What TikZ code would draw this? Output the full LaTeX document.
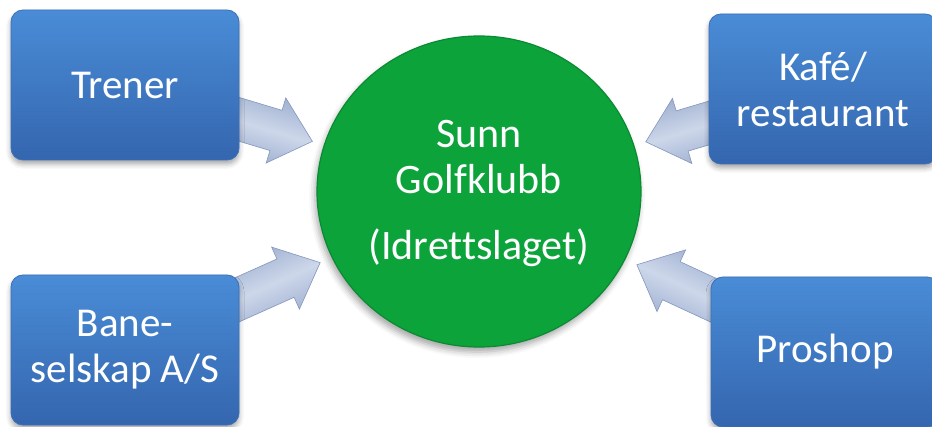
\documentclass[tikz,border=0pt]{standalone}
\usepackage{fontspec}
\setmainfont{Carlito}[Ligatures=NoCommon]
\usetikzlibrary{calc,shapes.geometric,shadows.blur}

\definecolor{boxtop}{HTML}{4A8CD7}
\definecolor{boxbottom}{HTML}{3466AE}
\definecolor{boxedge}{HTML}{3A70B9}
\definecolor{clubgreen}{HTML}{0DA33B}
\definecolor{clubedge}{HTML}{0B8A33}
\definecolor{feededge}{HTML}{90A3C8}
\definecolor{feedmid}{HTML}{CDD7EA}
\definecolor{feedline}{HTML}{8396BC}

% block arrow from a unit box towards the club, tip 174pt from the club centre
\newcommand\feedarrow[1]{%
  \path let \p1=($(#1.center)-(golf.center)$) in
    \pgfextra{\pgfmathsetmacro\feedangle{atan2(\y1,\x1)}\xdef\feedangle{\feedangle}};
  \begin{scope}[shift={($(golf.center)+(\feedangle:174)$)}, rotate=\feedangle+180]
    \shade[feed, shading angle=\feedangle]
      (0,0) -- (-38,34) -- (-38,21) -- (-140,21) -- (-140,-21)
      -- (-38,-21) -- (-38,-34) -- cycle;
  \end{scope}}

\begin{document}
\begin{tikzpicture}[x=1pt,y=1pt,
  unit/.style={rounded corners=12pt, minimum width=228pt, minimum height=150pt,
    inner sep=0pt, top color=boxtop, bottom color=boxbottom, draw=boxedge,
    line width=0.8pt, text=white, align=center,
    font=\fontsize{41}{46}\selectfont,
    blur shadow={shadow xshift=0pt, shadow yshift=-4pt, shadow blur radius=5pt,
      shadow opacity=35}},
  club/.style={ellipse, minimum width=324pt, minimum height=311pt, inner sep=0pt,
    fill=clubgreen, draw=clubedge, line width=1.2pt,
    blur shadow={shadow xshift=-2pt, shadow yshift=-5pt, shadow blur radius=6pt,
      shadow opacity=35}},
  clubtext/.style={text=white, anchor=base, font=\fontsize{42}{46}\selectfont},
  feed/.style={top color=feededge, bottom color=feededge, middle color=feedmid,
    draw=feedline, line width=0.6pt, line join=miter},
]
\useasboundingbox (0,0) rectangle (932,426);

% central club
\node[club] (golf) at (479,234.5) {};
\node[clubtext] (sunn) at ($(golf.center)+(0,43.5)$) {Sunn};
\node[clubtext] (klubb) at ($(golf.center)+(0,-2.5)$) {Golfklubb};
\node[clubtext] (idrett) at ($(golf.center)+(0,-68.5)$) {(Idrettslaget)};

% surrounding units (positions only, arrows drawn before the boxes)
\coordinate (trenerpos) at (125,341);
\coordinate (kafepos) at (823,337);
\coordinate (banepos) at (125,76);
\coordinate (proshoppos) at (825,74);

\feedarrow{trenerpos}
\feedarrow{kafepos}
\feedarrow{banepos}
\feedarrow{proshoppos}

\node[unit] (trener) at (trenerpos) {Trener};
\node[unit] (kafe) at (kafepos) {Kafé/\\restaurant};
\node[unit] (bane) at (banepos) {Bane-\\selskap A/S};
\node[unit] (proshop) at (proshoppos) {Proshop};
\end{tikzpicture}
\end{document}
